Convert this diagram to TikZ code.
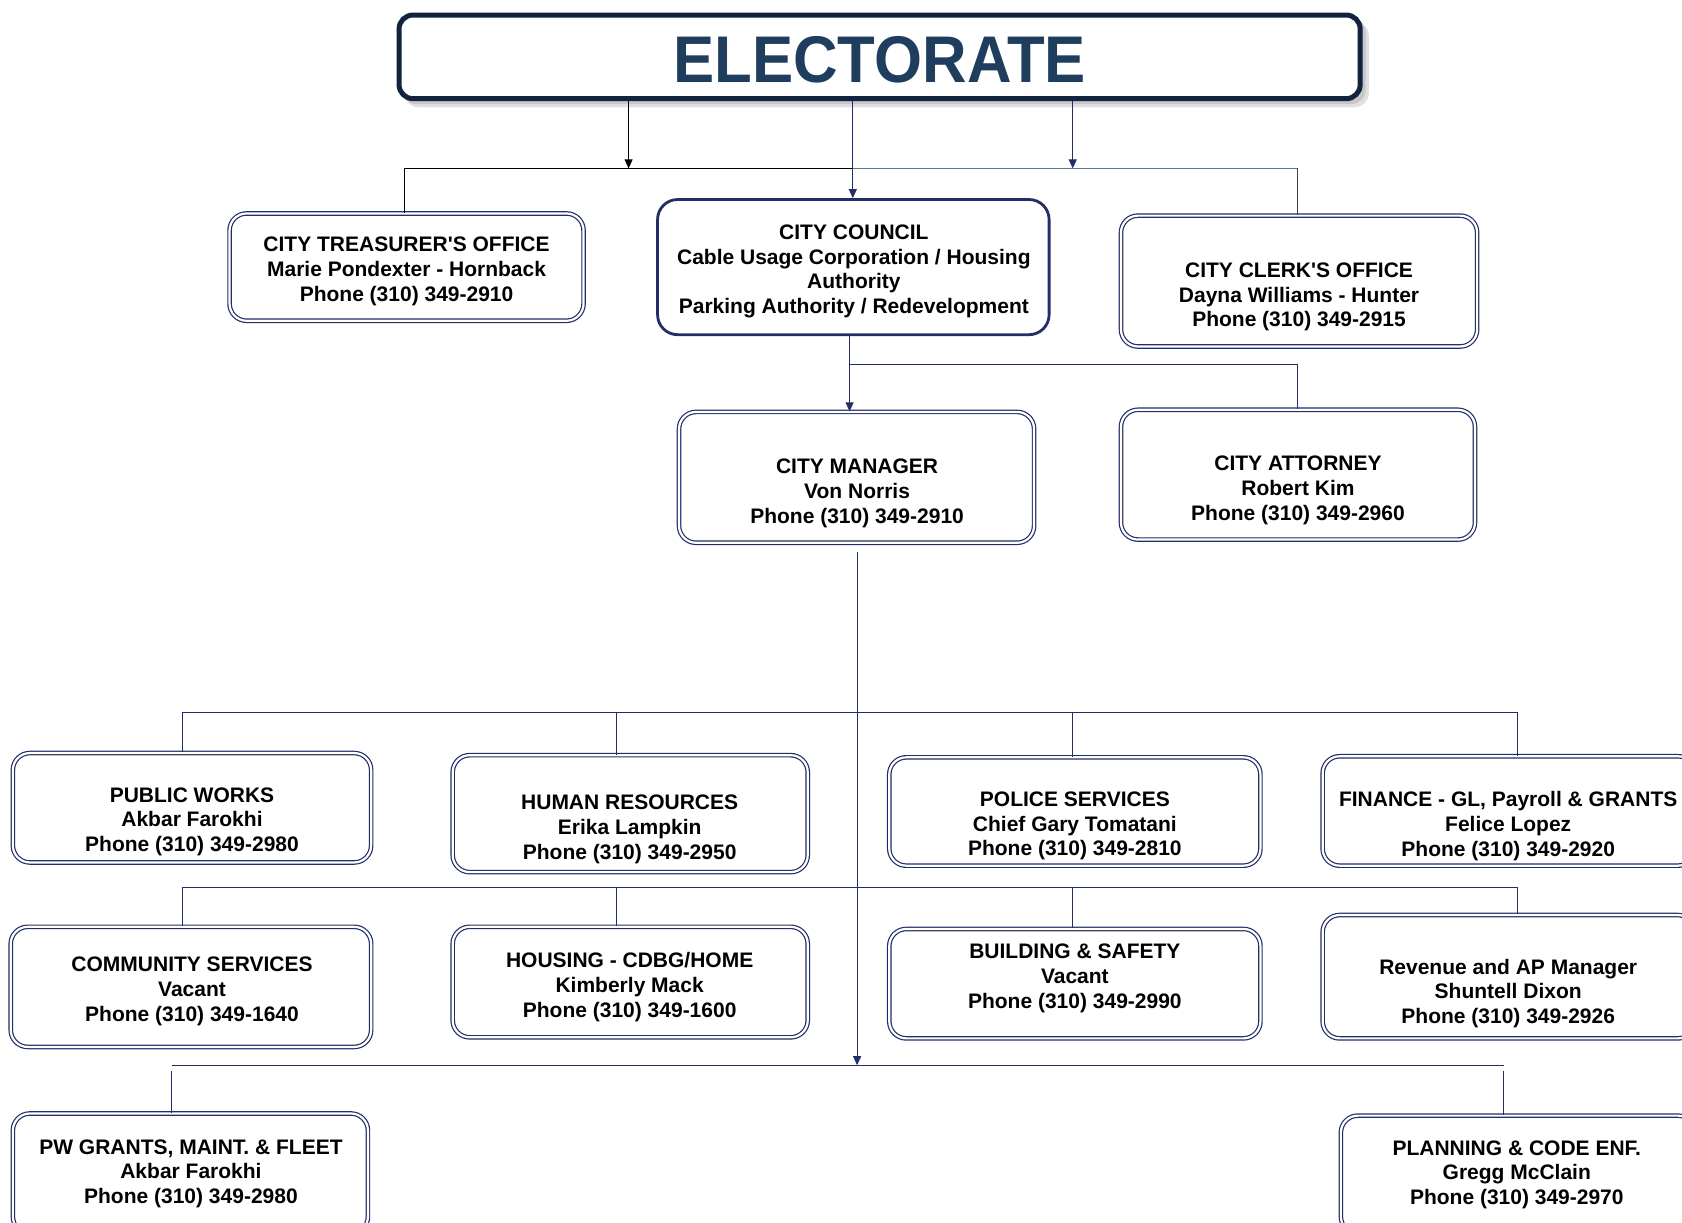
\documentclass[tikz,border=0pt]{standalone}
\usepackage{fontspec}
\setmainfont{Liberation Sans}[Ligatures=ResetAll]
\newfontfamily\titlefont[FakeStretch=0.935]{Liberation Sans}
\newcommand\apos{\XeTeXglyph\XeTeXglyphindex "quotesingle"\relax}
\usetikzlibrary{arrows.meta,fit}
\definecolor{navy}{HTML}{232E66}
\definecolor{darknavy}{HTML}{13233F}
\definecolor{titleblue}{HTML}{1F3E5E}
\definecolor{steel}{HTML}{5A7898}
\begin{document}
\begin{tikzpicture}[x=1.0727pt,y=-1.0727pt,
  dbox/.style={draw=navy, double=white, double distance=2.2pt, line width=1.2pt, rounded corners=17pt, inner sep=0pt},
  cbox/.style={draw=navy, line width=2.8pt, rounded corners=20pt, inner sep=0pt},
  ebox/.style={draw=darknavy, line width=5pt, fill=white, rounded corners=14pt, inner sep=0pt},
  txt/.style={font=\fontsize{21}{24.7}\selectfont\bfseries, align=center, inner sep=0pt},
  conn/.style={draw=navy, line width=1pt},
  arr/.style={-{Triangle[length=9pt,width=8pt]}},
]
\useasboundingbox (0,0) rectangle (1568,1140);
\fill[white] (0,0) rectangle (1568,1140);

% ---- Electorate
\fill[black!12, rounded corners=14pt] (377,20) rectangle (1276,100);
\fill[black!22, rounded corners=14pt] (375,17) rectangle (1273,97);
\node[ebox, fit={(372,14) (1268,92)}] (elect) {};
\node[font=\titlefont\fontsize{66}{66}\selectfont\bfseries, text=titleblue, inner sep=0pt] (etitle) at (820,56) {ELECTORATE};

% ---- top level
\node[dbox, fit={(214,199) (544,299)}] (treas) {};
\node[cbox, fit={(613,186) (978,312)}] (council) {};
\node[dbox, fit={(1045,201) (1377,323)}] (clerk) {};
\node[txt] (t-treas) at (379,253) {CITY TREASURER\apos S OFFICE\\Marie Pondexter - Hornback\\Phone (310) 349-2910};
\node[txt] (t-council) at (796,253) {CITY COUNCIL\\Cable Usage Corporation / Housing\\Authority\\Parking Authority / Redevelopment};
\node[txt] (t-clerk) at (1211,277) {CITY CLERK\apos S OFFICE\\Dayna Williams - Hunter\\Phone (310) 349-2915};

\node[dbox, fit={(633,384) (964,506)}] (mgr) {};
\node[dbox, fit={(1045,382) (1375,503)}] (atty) {};
\node[txt] (t-mgr) at (799,460) {CITY MANAGER\\Von Norris\\Phone (310) 349-2910};
\node[txt] (t-atty) at (1210,457) {CITY ATTORNEY\\Robert Kim\\Phone (310) 349-2960};

% ---- row 1
\node[dbox, fit={(12,702) (346,804)}] (pw) {};
\node[dbox, fit={(422,704) (753,813)}] (hr) {};
\node[dbox, fit={(829,706) (1175,807)}] (police) {};
\node[dbox, fit={(1233,705) (1580,807)}] (fin) {};
\node[txt] (t-pw) at (179,766) {PUBLIC WORKS\\Akbar Farokhi\\Phone (310) 349-2980};
\node[txt] (t-hr) at (587,773) {HUMAN RESOURCES\\Erika Lampkin\\Phone (310) 349-2950};
\node[txt] (t-police) at (1002,770) {POLICE SERVICES\\Chief Gary Tomatani\\Phone (310) 349-2810};
\node[txt] (t-fin) at (1406,770) {FINANCE - GL, Payroll \& GRANTS\\Felice Lopez\\Phone (310) 349-2920};

% ---- row 2
\node[dbox, fit={(10,864) (346,976)}] (cs) {};
\node[dbox, fit={(422,864) (753,967)}] (housing) {};
\node[dbox, fit={(829,866) (1175,968)}] (building) {};
\node[dbox, fit={(1233,853) (1580,968)}] (rev) {};
\node[txt] (t-cs) at (179,924) {COMMUNITY SERVICES\\Vacant\\Phone (310) 349-1640};
\node[txt] (t-housing) at (587,920) {HOUSING - CDBG/HOME\\Kimberly Mack\\Phone (310) 349-1600};
\node[txt] (t-building) at (1002,912) {BUILDING \& SAFETY\\Vacant\\Phone (310) 349-2990};
\node[txt] (t-rev) at (1406,926) {Revenue and AP Manager\\Shuntell Dixon\\Phone (310) 349-2926};

% ---- row 3
\node[dbox, fit={(12,1038) (343,1150)}] (pwg) {};
\node[dbox, fit={(1250,1040) (1580,1150)}] (plan) {};
\node[txt] (t-pwg) at (178,1094) {PW GRANTS, MAINT. \& FLEET\\Akbar Farokhi\\Phone (310) 349-2980};
\node[txt] (t-plan) at (1414,1095) {PLANNING \& CODE ENF.\\Gregg McClain\\Phone (310) 349-2970};

% ---- connectors: electorate level
\coordinate (ba-l) at (377,157);
\coordinate (ba-m) at (795,157);
\coordinate (ba-r) at (1210,157);
\coordinate (ba1) at (586,157);
\coordinate (ba3) at (1000,157);
\draw[black, line width=1pt] (ba-l) -- (ba-m);
\draw[steel, line width=1pt] (ba-m) -- (ba-r);
\draw[black, line width=1pt] (ba-l) -- (ba-l |- treas.north);
\draw[black!75, line width=1pt] (ba-r) -- (ba-r |- clerk.north);
\draw[black, line width=1pt, arr] (elect.south -| ba1) -- (ba1);
\draw[conn, arr] (elect.south -| ba-m) -- (ba-m |- council.north);
\draw[conn, arr] (elect.south -| ba3) -- (ba3);

% ---- council to manager / attorney
\coordinate (cm) at (792,340);
\draw[conn, arr] (cm |- council.south) -- (cm |- mgr.north);
\draw[conn] (cm) -| (atty.north);

% ---- buses
\coordinate (b1-l) at (170,664);
\coordinate (b1-hr) at (575,664);
\coordinate (b1-po) at (1000,664);
\coordinate (b1-r) at (1415,664);
\draw[conn] (b1-l) -- (b1-r);
\draw[conn] (b1-l) -- (b1-l |- pw.north);
\draw[conn] (b1-hr) -- (b1-hr |- hr.north);
\draw[conn] (b1-po) -- (b1-po |- police.north);
\draw[conn] (b1-r) -- (b1-r |- fin.north);

\coordinate (b2-l) at (170,827);
\coordinate (b2-hr) at (575,827);
\coordinate (b2-po) at (1000,827);
\coordinate (b2-r) at (1415,827);
\draw[conn] (b2-l) -- (b2-r);
\draw[conn] (b2-l) -- (b2-l |- cs.north);
\draw[conn] (b2-hr) -- (b2-hr |- housing.north);
\draw[conn] (b2-po) -- (b2-po |- building.north);
\draw[conn] (b2-r) -- (b2-r |- rev.north);

\coordinate (b3-l) at (160,993);
\coordinate (b3-r) at (1402,993);
\coordinate (b3-ld) at (160,998);
\coordinate (b3-rd) at (1402,998);
\draw[conn] (b3-l) -- (b3-r);
\draw[conn] (b3-ld) -- (b3-ld |- pwg.north);
\draw[conn] (b3-rd) -- (b3-rd |- plan.north);

% ---- manager trunk
\coordinate (m0) at (799,515);
\coordinate (m1) at (799,993);
\draw[conn, arr] (m0) -- (m1);
\end{tikzpicture}
\end{document}
